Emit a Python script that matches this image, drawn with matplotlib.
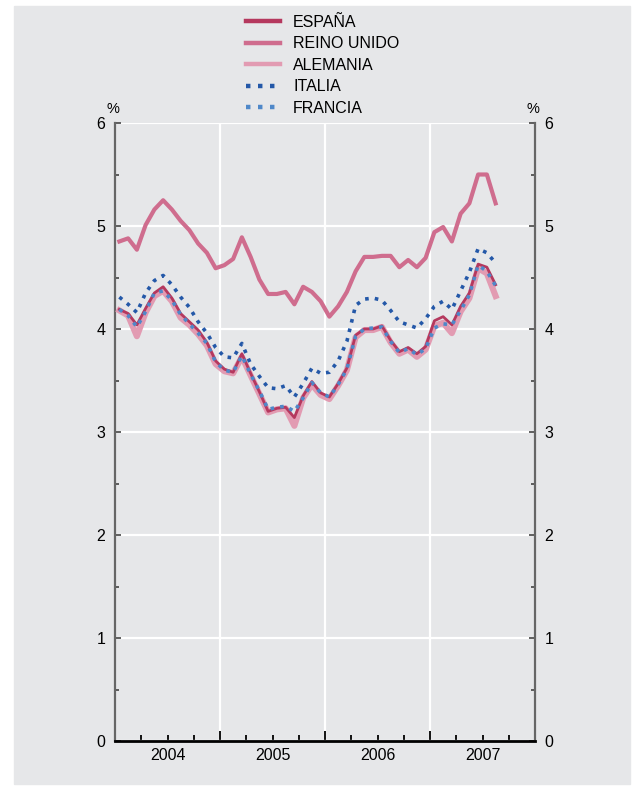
import matplotlib
matplotlib.use("Agg")
import matplotlib.pyplot as plt
from matplotlib.patches import Rectangle
import numpy as np

plt.rcParams["font.family"] = ["Liberation Sans", "DejaVu Sans"]

# monthly data, Jan 2004 - Aug 2007 (%)
months = np.arange(44) + 0.5
reino_unido = [4.85, 4.88, 4.77, 5.01, 5.16, 5.25, 5.16, 5.05, 4.96, 4.83, 4.74, 4.59,
               4.62, 4.68, 4.89, 4.70, 4.48, 4.34, 4.34, 4.36, 4.24, 4.41, 4.36, 4.27,
               4.12, 4.22, 4.36, 4.56, 4.70, 4.70, 4.71, 4.71, 4.60, 4.67, 4.60, 4.69,
               4.94, 4.99, 4.85, 5.12, 5.22, 5.50, 5.50, 5.22]
espana = [4.19, 4.15, 4.04, 4.20, 4.35, 4.41, 4.30, 4.15, 4.07, 3.99, 3.87, 3.69,
          3.61, 3.58, 3.76, 3.57, 3.39, 3.20, 3.23, 3.24, 3.14, 3.35, 3.49, 3.38,
          3.34, 3.47, 3.62, 3.94, 4.00, 4.00, 4.03, 3.89, 3.78, 3.82, 3.76, 3.83,
          4.08, 4.12, 4.04, 4.22, 4.35, 4.63, 4.60, 4.43]
alemania = [4.18, 4.13, 3.93, 4.16, 4.32, 4.37, 4.27, 4.11, 4.04, 3.95, 3.84, 3.66,
            3.59, 3.57, 3.73, 3.55, 3.37, 3.19, 3.22, 3.23, 3.06, 3.33, 3.46, 3.36,
            3.32, 3.45, 3.60, 3.92, 3.99, 3.99, 4.02, 3.87, 3.76, 3.80, 3.73, 3.80,
            4.03, 4.06, 3.96, 4.17, 4.30, 4.59, 4.54, 4.32]
italia = [4.31, 4.24, 4.16, 4.35, 4.47, 4.52, 4.43, 4.31, 4.21, 4.07, 3.96, 3.82,
          3.73, 3.72, 3.86, 3.66, 3.54, 3.43, 3.42, 3.45, 3.34, 3.47, 3.62, 3.57,
          3.58, 3.69, 3.88, 4.23, 4.29, 4.30, 4.28, 4.18, 4.07, 4.04, 4.01, 4.10,
          4.22, 4.27, 4.19, 4.37, 4.55, 4.78, 4.74, 4.64]
francia = [4.19, 4.13, 4.02, 4.17, 4.35, 4.37, 4.28, 4.14, 4.05, 3.96, 3.86, 3.68,
           3.60, 3.58, 3.74, 3.56, 3.40, 3.22, 3.24, 3.25, 3.20, 3.33, 3.48, 3.38,
           3.34, 3.46, 3.61, 3.93, 4.00, 4.01, 4.02, 3.88, 3.77, 3.81, 3.75, 3.81,
           4.01, 4.05, 4.04, 4.18, 4.33, 4.62, 4.56, 4.42]
years = ["2004", "2005", "2006", "2007"]

BG = "#e6e7e9"
C_ES, C_UK, C_DE = "#b5385e", "#cf6d8e", "#e29bb2"
C_IT, C_FR = "#2458a8", "#4f88c9"

fig = plt.figure(figsize=(6.41, 7.91), dpi=100)
fig.patches.append(Rectangle((14/641, 1 - 784/791), 616/641, 778/791,
                             transform=fig.transFigure, color=BG, zorder=-10))
ax = fig.add_axes([115/641, 50/791, 420/641, 618/791])
ax.set_zorder(1)
ax.set_facecolor(BG)

dot = dict(linestyle=(0, (1, 1.7)), dash_capstyle="butt")
ax.plot(months, alemania, color=C_DE, lw=4.4, label="ALEMANIA", zorder=3)
ax.plot(months, espana, color=C_ES, lw=2.0, label="ESPAÑA", zorder=4)
ax.plot(months, reino_unido, color=C_UK, lw=3.0, label="REINO UNIDO", zorder=4)
ax.plot(months, italia, color=C_IT, lw=2.6, label="ITALIA", zorder=5, **dot)
ax.plot(months, francia, color=C_FR, lw=2.6, label="FRANCIA", zorder=5, **dot)

ax.set_xlim(0, 48)
ax.set_ylim(0, 6)
ax.set_yticks(range(7))
ax.set_yticks(np.arange(0.5, 6, 1), minor=True)
ax.set_xticks([0, 12, 24, 36, 48], labels=[])
ax.set_xticks(np.arange(0, 49, 3), minor=True)
ax.grid(True, which="major", color="white", lw=1.6, zorder=1)
ax.set_axisbelow(True)

for s in ["left", "right"]:
    ax.spines[s].set_color("#666666")
    ax.spines[s].set_linewidth(1.6)
ax.spines["top"].set_visible(False)
ax.spines["bottom"].set_color("black")
ax.spines["bottom"].set_linewidth(2.0)
ax.spines["bottom"].set_zorder(6)

ax.tick_params(axis="y", which="both", direction="in", left=True, right=True,
               labelleft=True, labelright=True, color="#444444", width=1.2,
               labelsize=11.5, pad=7)
ax.tick_params(axis="y", which="major", length=4)
ax.tick_params(axis="y", which="minor", length=3)
ax.tick_params(axis="x", which="both", direction="in", color="black", width=1.3)
ax.tick_params(axis="x", which="major", length=7)
ax.tick_params(axis="x", which="minor", length=4)

sec = ax.secondary_xaxis("bottom")
sec.set_xticks([6, 18, 30, 42], labels=years)
sec.tick_params(length=0, labelsize=11.5, pad=5)
sec.spines["bottom"].set_visible(False)

ax.text(-0.004, 1.012, "%", transform=ax.transAxes, ha="center", va="bottom", fontsize=10.5)
ax.text(0.996, 1.012, "%", transform=ax.transAxes, ha="center", va="bottom", fontsize=10.5)

h, l = ax.get_legend_handles_labels()
order = ["ESPAÑA", "REINO UNIDO", "ALEMANIA", "ITALIA", "FRANCIA"]
hl = {lab: hh for hh, lab in zip(h, l)}
leg = fig.legend([hl[o] for o in order], order, loc="upper left",
                 bbox_to_anchor=(246/641, 1 - 15/791), frameon=False, fontsize=11.5,
                 handlelength=2.1, handletextpad=0.85, labelspacing=0.4,
                 borderpad=0, borderaxespad=0)
for lh in leg.get_lines():
    lh.set_linewidth(3.2)

fig.savefig("out.png", dpi=100)
